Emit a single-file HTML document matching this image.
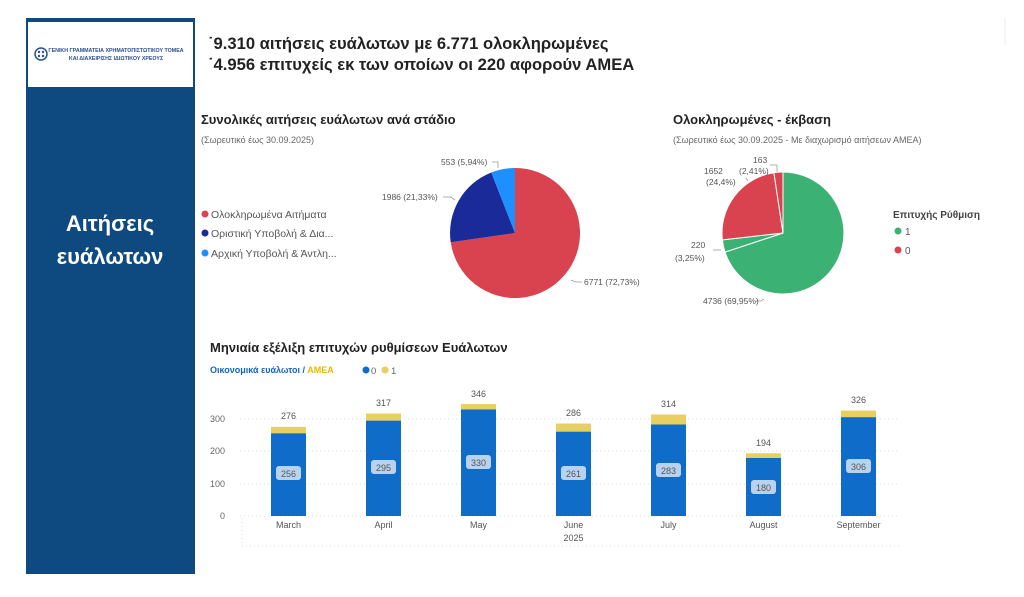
<!DOCTYPE html>
<html><head><meta charset="utf-8"><style>
body{margin:0;background:#fff;width:1024px;height:592px;overflow:hidden;font-family:"Liberation Sans","DejaVu Sans",sans-serif}
</style></head><body>
<svg width="1024" height="592" viewBox="0 0 1024 592" xmlns="http://www.w3.org/2000/svg" font-family="Liberation Sans, DejaVu Sans, sans-serif">
<rect x="26" y="18" width="169" height="556" fill="#0e4a80"/>
<rect x="28" y="22" width="165" height="65" fill="#fff"/>
<circle cx="41" cy="54" r="6" fill="#fff" stroke="#2a4f8f" stroke-width="1.5"/>
<circle cx="39" cy="52" r="1.2" fill="#2a4f8f"/><circle cx="43" cy="52" r="1.2" fill="#2a4f8f"/><circle cx="39" cy="56" r="1.2" fill="#2a4f8f"/><circle cx="43" cy="56" r="1.2" fill="#2a4f8f"/>
<text x="116" y="52" font-size="5.3" font-weight="bold" fill="#2a4f8f" text-anchor="middle">ΓΕΝΙΚΗ ΓΡΑΜΜΑΤΕΙΑ ΧΡΗΜΑΤΟΠΙΣΤΩΤΙΚΟΥ ΤΟΜΕΑ</text>
<text x="116" y="60" font-size="5.3" font-weight="bold" fill="#2a4f8f" text-anchor="middle">ΚΑΙ ΔΙΑΧΕΙΡΙΣΗΣ ΙΔΙΩΤΙΚΟΥ ΧΡΕΟΥΣ</text>
<text x="110" y="231" font-size="22" font-weight="bold" fill="#fff" text-anchor="middle">Αιτήσεις</text>
<text x="110" y="264" font-size="22" font-weight="bold" fill="#fff" text-anchor="middle">ευάλωτων</text>
<line x1="1005" y1="18" x2="1005" y2="45" stroke="#eee"/>
<text x="208" y="49" font-size="16.6" font-weight="bold" fill="#222">˙9.310 αιτήσεις ευάλωτων με 6.771 ολοκληρωμένες</text>
<text x="208" y="70" font-size="16.6" font-weight="bold" fill="#222">˙4.956 επιτυχείς εκ των οποίων οι 220 αφορούν ΑΜΕΑ</text>
<text x="201" y="124" font-size="13" font-weight="bold" fill="#222">Συνολικές αιτήσεις ευάλωτων ανά στάδιο</text>
<text x="201" y="143" font-size="9" fill="#666">(Σωρευτικό έως 30.09.2025)</text>
<circle cx="205" cy="214" r="3.5" fill="#d9434f"/><text x="211" y="218" font-size="10.5" fill="#555">Ολοκληρωμένα Αιτήματα</text>
<circle cx="205" cy="233" r="3.5" fill="#1a2a99"/><text x="211" y="237" font-size="10.5" fill="#555">Οριστική Υποβολή &amp; Δια...</text>
<circle cx="205" cy="253" r="3.5" fill="#1e8fff"/><text x="211" y="257" font-size="10.5" fill="#555">Αρχική Υποβολή &amp; Άντλη...</text>
<path d="M515,233 L515,168 A65,65 0 1 1 450.7,242.3 Z" fill="#d9434f"/>
<path d="M515,233 L450.7,242.3 A65,65 0 0 1 491.3,172.5 Z" fill="#1a2a99"/>
<path d="M515,233 L491.3,172.5 A65,65 0 0 1 515,168 Z" fill="#1e8fff"/>
<g stroke="#999" fill="none" stroke-width="0.8"><path d="M492,162 h6 v6"/><path d="M443,197 h8 l4,3"/><path d="M571,280 l5,2 h6"/></g>
<g font-size="8.5" fill="#555"><text x="441" y="165">553 (5,94%)</text><text x="382" y="200">1986 (21,33%)</text><text x="584" y="285">6771 (72,73%)</text></g>
<text x="673" y="124" font-size="13" font-weight="bold" fill="#222">Ολοκληρωμένες - έκβαση</text>
<text x="673" y="143" font-size="9" fill="#666">(Σωρευτικό έως 30.09.2025 - Με διαχωρισμό αιτήσεων ΑΜΕΑ)</text>
<g stroke="#fff" stroke-width="1">
<path d="M783,233 L783,172 A61,61 0 1 1 725.0,252.1 Z" fill="#3bb273"/>
<path d="M783,233 L725.0,252.1 A61,61 0 0 1 722.4,239.9 Z" fill="#3bb273"/>
<path d="M783,233 L722.4,239.9 A61,61 0 0 1 773.9,172.7 Z" fill="#d9434f"/>
<path d="M783,233 L773.9,172.7 A61,61 0 0 1 783,172 Z" fill="#d9434f"/>
</g>
<g stroke="#999" fill="none" stroke-width="0.8"><path d="M770,165 h7 v7"/><path d="M746,178 l2,3"/><path d="M713,250 h8"/><path d="M764,299 l-3,2 h-6"/></g>
<g font-size="8.5" fill="#555"><text x="753" y="163">163</text><text x="739" y="174">(2,41%)</text><text x="704" y="174">1652</text><text x="706" y="185">(24,4%)</text><text x="691" y="248">220</text><text x="675" y="261">(3,25%)</text><text x="703" y="304">4736 (69,95%)</text></g>
<text x="893" y="218" font-size="10" font-weight="bold" fill="#444">Επιτυχής Ρύθμιση</text>
<circle cx="898" cy="231" r="3.5" fill="#3bb273"/><text x="905" y="235" font-size="10" fill="#555">1</text>
<circle cx="898" cy="250" r="3.5" fill="#d9434f"/><text x="905" y="254" font-size="10" fill="#555">0</text>
<text x="210" y="352" font-size="13" font-weight="bold" fill="#222">Μηνιαία εξέλιξη επιτυχών ρυθμίσεων Ευάλωτων</text>
<text x="210" y="373" font-size="9" font-weight="bold" fill="#1565c0">Οικονομικά ευάλωτοι / <tspan fill="#e6b800">ΑΜΕΑ</tspan></text>
<circle cx="366" cy="370" r="3.5" fill="#0f6cc8"/><text x="371" y="374" font-size="9.5" fill="#666">0</text>
<circle cx="385" cy="370" r="3.5" fill="#e8cf5f"/><text x="391" y="374" font-size="9.5" fill="#666">1</text>
<g stroke="#ddd" stroke-dasharray="1,3"><line x1="240" y1="419" x2="900" y2="419"/><line x1="240" y1="451" x2="900" y2="451"/><line x1="240" y1="484" x2="900" y2="484"/><line x1="240" y1="516" x2="900" y2="516"/><line x1="242" y1="518" x2="242" y2="546"/><line x1="242" y1="546" x2="900" y2="546"/></g>
<g font-size="9" fill="#666" text-anchor="end"><text x="225" y="422">300</text><text x="225" y="454">200</text><text x="225" y="487">100</text><text x="225" y="519">0</text></g>
<g font-size="9" fill="#555" text-anchor="middle">
<rect x="271" y="433.2" width="35" height="82.8" fill="#0f6cc8"/><rect x="271" y="426.8" width="35" height="6.4" fill="#e8cf5f"/><text x="288.5" y="419">276</text><rect x="276" y="466" width="25" height="14" rx="3" fill="#b9d3ee"/><text x="288.5" y="477">256</text><text x="288.5" y="528">March</text>
<rect x="366" y="420.6" width="35" height="95.4" fill="#0f6cc8"/><rect x="366" y="413.5" width="35" height="7.1" fill="#e8cf5f"/><text x="383.5" y="406">317</text><rect x="371" y="460" width="25" height="14" rx="3" fill="#b9d3ee"/><text x="383.5" y="471">295</text><text x="383.5" y="528">April</text>
<rect x="461" y="409.3" width="35" height="106.7" fill="#0f6cc8"/><rect x="461" y="404.1" width="35" height="5.2" fill="#e8cf5f"/><text x="478.5" y="397">346</text><rect x="466" y="455" width="25" height="14" rx="3" fill="#b9d3ee"/><text x="478.5" y="466">330</text><text x="478.5" y="528">May</text>
<rect x="556" y="431.6" width="35" height="84.4" fill="#0f6cc8"/><rect x="556" y="423.5" width="35" height="8.1" fill="#e8cf5f"/><text x="573.5" y="416">286</text><rect x="561" y="466" width="25" height="14" rx="3" fill="#b9d3ee"/><text x="573.5" y="477">261</text><text x="573.5" y="528">June</text><text x="573.5" y="541">2025</text>
<rect x="651" y="424.5" width="35" height="91.5" fill="#0f6cc8"/><rect x="651" y="414.5" width="35" height="10" fill="#e8cf5f"/><text x="668.5" y="407">314</text><rect x="656" y="463" width="25" height="14" rx="3" fill="#b9d3ee"/><text x="668.5" y="474">283</text><text x="668.5" y="528">July</text>
<rect x="746" y="457.8" width="35" height="58.2" fill="#0f6cc8"/><rect x="746" y="453.3" width="35" height="4.5" fill="#e8cf5f"/><text x="763.5" y="446">194</text><rect x="751" y="480" width="25" height="14" rx="3" fill="#b9d3ee"/><text x="763.5" y="491">180</text><text x="763.5" y="528">August</text>
<rect x="841" y="417.1" width="35" height="98.9" fill="#0f6cc8"/><rect x="841" y="410.6" width="35" height="6.5" fill="#e8cf5f"/><text x="858.5" y="403">326</text><rect x="846" y="459" width="25" height="14" rx="3" fill="#b9d3ee"/><text x="858.5" y="470">306</text><text x="858.5" y="528">September</text>
</g>
</svg>
</body></html>
